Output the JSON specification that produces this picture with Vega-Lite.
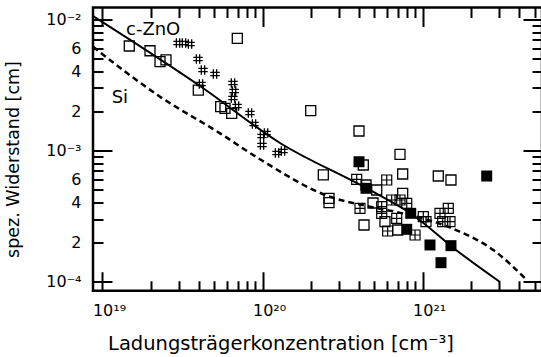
{
  "$schema": "https://vega.github.io/schema/vega-lite/v6.json",
  "width": 449,
  "height": 283.3,
  "autosize": {"type": "none"},
  "padding": {"left": 93, "top": 7.5, "right": 0, "bottom": 66},
  "background": "white",
  "datasets": {
    "lines": [
      {"n": 8.74e18, "rho": 1.058e-2, "series": "ZnO"},
      {"n": 4.07e19, "rho": 3.10e-3, "series": "ZnO"},
      {"n": 1.286e20, "rho": 1.141e-3, "series": "ZnO"},
      {"n": 4.43e20, "rho": 5.18e-4, "series": "ZnO"},
      {"n": 8.34e20, "rho": 3.34e-4, "series": "ZnO"},
      {"n": 1.712e21, "rho": 1.655e-4, "series": "ZnO"},
      {"n": 3.044e21, "rho": 9.95e-5, "series": "ZnO"},
      {"n": 8.74e18, "rho": 6.17e-3, "series": "Si"},
      {"n": 2.29e19, "rho": 2.57e-3, "series": "Si"},
      {"n": 5.43e19, "rho": 1.352e-3, "series": "Si"},
      {"n": 9.65e19, "rho": 8.57e-4, "series": "Si"},
      {"n": 2.64e20, "rho": 4.44e-4, "series": "Si"},
      {"n": 4.69e20, "rho": 3.73e-4, "series": "Si"},
      {"n": 8.34e20, "rho": 3.22e-4, "series": "Si"},
      {"n": 1.712e21, "rho": 2.405e-4, "series": "Si"},
      {"n": 2.764e21, "rho": 1.744e-4, "series": "Si"},
      {"n": 4.47e21, "rho": 1.03e-4, "series": "Si"}
    ],
    "points": [
      {"n": 1.472e19, "rho": 6.26e-3, "kind": "open"},
      {"n": 1.983e19, "rho": 5.76e-3, "kind": "open"},
      {"n": 2.29e19, "rho": 4.75e-3, "kind": "open"},
      {"n": 2.495e19, "rho": 4.90e-3, "kind": "open"},
      {"n": 3.972e19, "rho": 2.89e-3, "kind": "open"},
      {"n": 5.48e19, "rho": 2.157e-3, "kind": "open"},
      {"n": 5.83e19, "rho": 2.097e-3, "kind": "open"},
      {"n": 6.42e19, "rho": 1.92e-3, "kind": "open"},
      {"n": 6.96e19, "rho": 7.16e-3, "kind": "open"},
      {"n": 2.001e20, "rho": 2.011e-3, "kind": "open"},
      {"n": 4.006e20, "rho": 1.408e-3, "kind": "open"},
      {"n": 7.225e20, "rho": 9.35e-4, "kind": "open"},
      {"n": 2.398e20, "rho": 6.51e-4, "kind": "open"},
      {"n": 2.602e20, "rho": 4.32e-4, "kind": "open"},
      {"n": 2.602e20, "rho": 4.00e-4, "kind": "open"},
      {"n": 4.262e20, "rho": 7.75e-4, "kind": "open"},
      {"n": 4.432e20, "rho": 5.46e-4, "kind": "open"},
      {"n": 7.51e20, "rho": 6.62e-4, "kind": "open"},
      {"n": 7.51e20, "rho": 4.72e-4, "kind": "open"},
      {"n": 5.17e20, "rho": 5.00e-4, "kind": "open"},
      {"n": 4.90e20, "rho": 3.98e-4, "kind": "open"},
      {"n": 5.82e20, "rho": 2.866e-4, "kind": "open"},
      {"n": 4.306e20, "rho": 2.705e-4, "kind": "open"},
      {"n": 6.99e20, "rho": 2.478e-4, "kind": "open"},
      {"n": 1.253e21, "rho": 6.39e-4, "kind": "open"},
      {"n": 1.504e21, "rho": 5.96e-4, "kind": "open"},
      {"n": 3.876e20, "rho": 6.03e-4, "kind": "cross"},
      {"n": 5.97e20, "rho": 5.96e-4, "kind": "cross"},
      {"n": 4.064e20, "rho": 3.626e-4, "kind": "cross"},
      {"n": 5.553e20, "rho": 3.73e-4, "kind": "cross"},
      {"n": 5.553e20, "rho": 3.32e-4, "kind": "cross"},
      {"n": 6.41e20, "rho": 4.195e-4, "kind": "cross"},
      {"n": 7.225e20, "rho": 4.195e-4, "kind": "cross"},
      {"n": 7.96e20, "rho": 3.96e-4, "kind": "cross"},
      {"n": 6.89e20, "rho": 3.042e-4, "kind": "cross"},
      {"n": 6.05e20, "rho": 2.434e-4, "kind": "cross"},
      {"n": 8.97e20, "rho": 2.27e-4, "kind": "cross"},
      {"n": 1.01e21, "rho": 3.13e-4, "kind": "cross"},
      {"n": 1.05e21, "rho": 2.866e-4, "kind": "cross"},
      {"n": 1.284e21, "rho": 3.32e-4, "kind": "cross"},
      {"n": 1.447e21, "rho": 3.626e-4, "kind": "cross"},
      {"n": 1.335e21, "rho": 2.866e-4, "kind": "cross"},
      {"n": 1.483e21, "rho": 2.866e-4, "kind": "cross"},
      {"n": 4.006e20, "rho": 8.21e-4, "kind": "filled"},
      {"n": 4.432e20, "rho": 5.15e-4, "kind": "filled"},
      {"n": 8.43e20, "rho": 3.32e-4, "kind": "filled"},
      {"n": 7.96e20, "rho": 2.508e-4, "kind": "filled"},
      {"n": 1.112e21, "rho": 1.905e-4, "kind": "filled"},
      {"n": 1.504e21, "rho": 1.882e-4, "kind": "filled"},
      {"n": 1.303e21, "rho": 1.396e-4, "kind": "filled"},
      {"n": 2.514e21, "rho": 6.39e-4, "kind": "filled"},
      {"n": 2.967e19, "rho": 6.60e-3, "kind": "hash"},
      {"n": 3.234e19, "rho": 6.60e-3, "kind": "hash"},
      {"n": 3.526e19, "rho": 6.48e-3, "kind": "hash"},
      {"n": 3.955e19, "rho": 4.98e-3, "kind": "hash"},
      {"n": 4.25e19, "rho": 4.11e-3, "kind": "hash"},
      {"n": 5.05e19, "rho": 3.83e-3, "kind": "hash"},
      {"n": 4.13e19, "rho": 3.213e-3, "kind": "hash"},
      {"n": 6.54e19, "rho": 3.27e-3, "kind": "hash"},
      {"n": 6.64e19, "rho": 2.84e-3, "kind": "hash"},
      {"n": 6.54e19, "rho": 2.513e-3, "kind": "hash"},
      {"n": 6.93e19, "rho": 2.184e-3, "kind": "hash"},
      {"n": 8.35e19, "rho": 1.931e-3, "kind": "hash"},
      {"n": 8.85e19, "rho": 1.592e-3, "kind": "hash"},
      {"n": 9.93e19, "rho": 1.29e-3, "kind": "hash"},
      {"n": 1.052e20, "rho": 1.359e-3, "kind": "hash"},
      {"n": 9.93e19, "rho": 1.101e-3, "kind": "hash"},
      {"n": 1.232e20, "rho": 9.57e-4, "kind": "hash"},
      {"n": 1.343e20, "rho": 9.91e-4, "kind": "hash"}
    ],
    "labels": [
      {"n": 1.404e19, "rho": 7.59e-3, "label": "c-ZnO"},
      {"n": 1.143e19, "rho": 2.30e-3, "label": "Si"}
    ]
  },
  "encoding": {
    "x": {"field": "n", "type": "quantitative",
      "scale": {"type": "log", "domain": [8.735e18, 5.569e21], "nice": false},
      "axis": {"orient": "bottom", "ticks": false, "grid": true,
        "values": [1e19, 2e19, 3e19, 4e19, 5e19, 6e19, 7e19, 8e19, 9e19, 1e20, 2e20, 3e20, 4e20, 5e20, 6e20, 7e20, 8e20, 9e20, 1e21, 2e21, 3e21, 4e21, 5e21],
        "gridColor": "black", "gridWidth": 2, "gridOpacity": 1,
        "gridDash": {"condition": {"test": "datum.value == 1e19 || datum.value == 1e20 || datum.value == 1e21", "value": [19, 245.3, 19]}, "value": [10, 263.3, 10]},
        "labelExpr": "datum.value == 1e19 ? '10¹⁹' : datum.value == 1e20 ? '10²⁰' : datum.value == 1e21 ? '10²¹' : ''",
        "labelAlign": "left", "labelOffset": -10, "labelBaseline": "top", "labelPadding": 12,
        "title": "Ladungsträgerkonzentration [cm⁻³]", "titleX": 187.5, "titleY": 59,
        "titleFontSize": 19.5,
        "titleAlign": "center", "titleBaseline": "alphabetic"}},
    "y": {"field": "rho", "type": "quantitative",
      "scale": {"type": "log", "domain": [8.523e-5, 0.012303], "nice": false},
      "axis": {"orient": "left", "ticks": false, "grid": true,
        "values": [0.0001, 0.0002, 0.0003, 0.0004, 0.0005, 0.0006, 0.0007, 0.0008, 0.0009, 0.001, 0.002, 0.003, 0.004, 0.005, 0.006, 0.007, 0.008, 0.009, 0.01],
        "gridColor": "black", "gridWidth": 2, "gridOpacity": 1,
        "gridDash": {"condition": {"test": "datum.value == 0.0001 || datum.value == 0.001 || datum.value == 0.01", "value": [19, 411, 19]}, "value": [10, 429, 10]},
        "labelExpr": "abs(datum.value-0.01)<1e-9 ? '10⁻²' : abs(datum.value-0.001)<1e-9 ? '10⁻³' : abs(datum.value-0.0001)<1e-9 ? '10⁻⁴' : (abs(datum.value-0.0002)<1e-9 || abs(datum.value-0.002)<1e-9) ? '2' : (abs(datum.value-0.0004)<1e-9 || abs(datum.value-0.004)<1e-9) ? '4' : (abs(datum.value-0.0006)<1e-9 || abs(datum.value-0.006)<1e-9) ? '6' : ''",
        "labelPadding": 12, "labelAlign": "right", "labelBaseline": "middle",
        "encode": {"labels": {"update": {"dy": {"signal": "abs(datum.value-0.006)<1e-9 ? 12.6 : abs(datum.value-0.004)<1e-9 ? 15 : abs(datum.value-0.002)<1e-9 ? 7 : abs(datum.value-0.0006)<1e-9 ? 3 : abs(datum.value-0.0004)<1e-9 ? 11 : abs(datum.value-0.0002)<1e-9 ? 2.3 : 0"}}}},
        "title": "spez. Widerstand [cm]", "titleX": -80, "titleY": 151.5, "titleAngle": 270,
        "titleFontSize": 17.5,
        "titleAlign": "center", "titleBaseline": "middle"}}
  },
  "layer": [
    {
      "data": {"name": "lines"},
      "transform": [{"filter": "datum.series == 'ZnO'"}],
      "mark": {"type": "line", "color": "black", "strokeWidth": 2, "interpolate": "monotone", "clip": true}
    },
    {
      "data": {"name": "lines"},
      "transform": [{"filter": "datum.series == 'Si'"}],
      "mark": {"type": "line", "color": "black", "strokeWidth": 2.5, "strokeDash": [6, 4], "interpolate": "monotone", "clip": true}
    },
    {
      "data": {"name": "points"},
      "transform": [{"filter": "datum.kind == 'open'"}],
      "mark": {"type": "point", "shape": "square", "size": 100, "filled": false, "stroke": "black", "strokeWidth": 1.3, "opacity": 1}
    },
    {
      "data": {"name": "points"},
      "transform": [{"filter": "datum.kind == 'cross'"}],
      "mark": {"type": "point", "shape": "M-1,-1H1V1H-1ZM0,-1V1M-1,0H1", "size": 100, "filled": false, "stroke": "black", "strokeWidth": 1.2, "opacity": 1}
    },
    {
      "data": {"name": "points"},
      "transform": [{"filter": "datum.kind == 'hash'"}],
      "mark": {"type": "point", "shape": "M-0.35,-1V1M0.35,-1V1M-1,-0.35H1M-1,0.35H1", "size": 90, "filled": false, "stroke": "black", "strokeWidth": 1.3, "opacity": 1}
    },
    {
      "data": {"name": "points"},
      "transform": [{"filter": "datum.kind == 'filled'"}],
      "mark": {"type": "point", "shape": "square", "size": 121, "filled": true, "color": "black", "opacity": 1}
    },
    {
      "data": {"name": "labels"},
      "mark": {"type": "text", "align": "left", "baseline": "alphabetic", "font": "DejaVu Sans", "fontSize": 18, "color": "black"},
      "encoding": {"text": {"field": "label"}}
    }
  ],
  "config": {
    "view": {"stroke": "black", "strokeWidth": 2.5},
    "axis": {
      "domain": false,
      "labelColor": "black", "labelFont": "DejaVu Sans", "labelFontSize": 16,
      "labelOverlap": false, "labelFlush": false, "labelBound": false,
      "titleFont": "DejaVu Sans", "titleFontWeight": "normal", "titleColor": "black"
    }
  }
}
